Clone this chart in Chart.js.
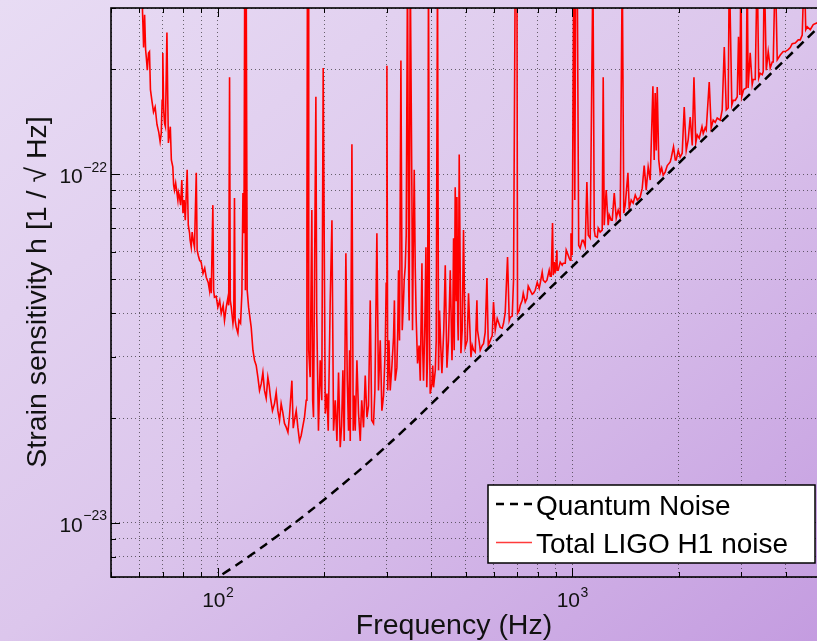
<!DOCTYPE html>
<html>
<head>
<meta charset="utf-8">
<title>LIGO H1 strain sensitivity</title>
<script src="https://cdn.jsdelivr.net/npm/chart.js@4.4.1/dist/chart.umd.min.js"></script>
<style>
  html, body { margin: 0; padding: 0; overflow: hidden; }
  body {
    width: 817px; height: 641px;
    background: linear-gradient(to bottom right, #e8dcf4 0%, #dcc6ec 50%, #c49ce0 100%);
  }
  #wrap { position: relative; width: 830px; height: 641px; }
</style>
</head>
<body>
<div id="wrap"><canvas id="noise" width="830" height="641"></canvas></div>
<script>
// quantum noise (dashed)
const quantumFreq = [95.2, 99.7, 115.7, 136.1, 160.2, 188.4, 221.6, 260.7, 306.6, 360.7,
  444.1, 550.2, 713.5, 987.1, 1366, 1890, 2616, 3619, 5000];
const quantumStrain = [6.76e-24, 6.97e-24, 7.70e-24, 8.65e-24, 9.78e-24, 1.112e-23, 1.273e-23, 1.465e-23, 1.699e-23, 1.981e-23,
  2.436e-23, 3.011e-23, 3.893e-23, 5.365e-23, 7.395e-23, 1.019e-22, 1.405e-22, 1.937e-22, 2.670e-22];

// total H1 noise (red); lines that run off the top are given 4e-22
const noiseFreq = [
  60.8, 61.8, 62.2, 62.6, 62.9, 63.3, 63.8, 64.2, 64.6, 65.2,
  65.9, 66.6, 67.4, 68.2, 68.8, 69.3, 69.7, 70.0, 70.4, 70.8,
  71.2, 71.9, 72.3, 72.6, 73.5, 74.0, 74.7, 75.5, 76.1, 77.2,
  77.9, 79.2, 79.8, 81.0, 82.0, 82.6, 83.3, 84.2, 85.3, 86.0,
  87.0, 87.5, 88.9, 90.9, 92.8, 94.8, 95.9, 96.9, 97.4, 97.9,
  100.1, 102.3, 104.5, 105.7, 106.9, 108.0, 108.5, 109.2, 110.4, 111.5,
  112.0, 112.8, 114.0, 116.0, 117.0, 117.8, 118.6, 119.2, 119.7, 120.3,
  121.1, 122.2, 124.3, 125.7, 127.0, 129.8, 132.7, 135.5, 138.5, 140.9,
  144.6, 147.8, 151.0, 154.3, 157.8, 161.9, 164.6, 168.3, 171.9, 175.7,
  177.7, 178.5, 179.1, 179.8, 180.6, 182.3, 184.3, 185.3, 186.3, 189.2,
  190.2, 192.4, 194.6, 196.6, 198.4, 201.1, 203.3, 205.0, 207.6, 210.0,
  212.2, 216.9, 221.6, 225.5, 227.4, 229.9, 233.9, 236.5, 239.1, 241.1,
  244.3, 249.6, 252.4, 257.8, 263.6, 269.3, 271.9, 275.1, 281.2, 284.1,
  290.5, 296.8, 298.7, 300.1, 301.7, 306.6, 313.3, 316.7, 320.2, 323.6,
  325.7, 328.7, 331.5, 334.3, 338.0, 340.2, 343.1, 345.8, 349.2, 353.1,
  356.1, 358.4, 360.7, 366.2, 372.7, 376.8, 380.7, 386.7, 388.8, 393.2,
  397.6, 402.0, 406.2, 410.9, 416.9, 422.4, 429.0, 438.4, 443.2, 452.9,
  457.9, 462.7, 464.7, 467.7, 470.8, 472.9, 477.0, 480.0, 485.3, 493.6,
  499.1, 509.9, 518.0, 526.8, 538.5, 540.6, 550.2, 562.1, 574.7, 579.7,
  587.1, 599.8, 606.5, 626.5, 640.1, 657.0, 664.3, 668.6, 683.1, 690.7,
  698.3, 701.1, 713.5, 727.6, 745.2, 761.5, 777.9, 796.8, 812.3, 828.5,
  848.5, 866.9, 880.0, 884.0, 895.6, 905.4, 912.9, 937.0, 955.7, 974.3,
  987.2, 992.0, 1000, 1010, 1017, 1023, 1033, 1043, 1053, 1074,
  1100, 1110, 1124, 1144, 1154, 1177, 1199, 1223, 1231, 1247,
  1263, 1288, 1314, 1331, 1366, 1384, 1398, 1436, 1448, 1486,
  1526, 1555, 1596, 1617, 1638, 1660, 1689, 1703, 1714, 1726,
  1737, 1754, 1771, 1806, 1854, 1890, 1931, 1965, 2016, 2070,
  2097, 2152, 2181, 2205, 2231, 2282, 2323, 2342, 2388, 2435,
  2466, 2532, 2616, 2685, 2720, 2774, 2820, 2884, 2945, 2970,
  2992, 3007, 3046, 3116, 3135, 3177, 3219, 3283, 3325, 3358,
  3391, 3436, 3480, 3527, 3572, 3619, 3690, 3739, 3787, 3862,
  3990, 4121, 4257, 4397, 4455, 4513, 4558, 4602, 4693, 4785,
  4911, 5000,
  // extra readings of the noisy floor
  75.1, 77.5, 78.6, 80.4, 83.6, 84.7, 88.1, 89.8, 91.9, 94.0,
  95.2, 99.0, 101.3, 103.6, 107.4, 111.0, 114.8,
  128.4, 131.2, 134.1, 137.0, 139.7, 142.7, 146.2, 149.4, 152.7, 156.1,
  159.4, 163.3, 166.5, 170.1, 173.9,
  214.6, 219.2, 223.6, 232.0, 235.5, 242.7, 247.0, 254.8, 260.7, 266.3,
  277.6, 287.4, 293.6, 304.1, 310.1, 315.1, 322.0, 335.8, 346.9, 354.4,
  363.1, 369.8, 378.7, 383.7, 390.7, 395.6, 404.1, 413.4, 419.7, 425.7,
  434.1, 447.7, 460.1, 475.3, 489.4, 505.6,
  522.3, 532.6, 546.7, 557.3, 568.2, 594.8, 614.4, 634.7, 647.2, 677.3,
  708.8, 722.7, 737.0, 751.5, 771.2, 786.4, 806.9, 822.8, 839.0, 861.1,
  872.4, 889.6, 907.1, 925.0, 943.2, 961.8, 980.7,
  1067, 1088, 1161, 1184, 1215, 1272, 1297, 1348, 1411, 1467,
  1506, 1576, 1788, 1829, 1902, 1953, 1991, 2043, 2124, 2253,
  2372, 2499, 2565, 2649, 2754, 2846, 2921, 3097, 3239, 3458,
  3666, 3937, 4067, 4174, 4341
];
const noiseStrain = [
  4e-22, 2.31e-22, 2.87e-22, 2.28e-22, 2.16e-22, 1.99e-22, 2.23e-22, 2.25e-22, 1.75e-22, 1.63e-22,
  1.51e-22, 1.56e-22, 1.39e-22, 1.32e-22, 1.24e-22, 1.31e-22, 1.63e-22, 2.23e-22, 1.53e-22, 1.40e-22,
  1.37e-22, 2.55e-22, 1.63e-22, 1.23e-22, 1.37e-22, 1.10e-22, 1.05e-22, 9.01e-23, 9.44e-23, 8.44e-23,
  8.72e-23, 9.63e-23, 7.74e-23, 7.39e-23, 1.03e-22, 7.15e-23, 6.78e-23, 6.18e-23, 6.47e-23, 6.18e-23,
  1.01e-22, 6.06e-23, 5.67e-23, 5.20e-23, 5.07e-23, 4.65e-23, 4.56e-23, 8.16e-23, 4.65e-23, 4.44e-23,
  4.16e-23, 3.99e-23, 3.81e-23, 4.16e-23, 4.44e-23, 1.90e-22, 4.35e-23, 4.16e-23, 3.74e-23, 8.55e-23,
  3.81e-23, 3.64e-23, 3.50e-23, 3.74e-23, 4.56e-23, 8.84e-23, 6.78e-23, 4e-22, 4.65e-23, 4e-22,
  4.65e-23, 4.16e-23, 3.64e-23, 3.13e-23, 2.93e-23, 2.62e-23, 2.51e-23, 2.40e-23, 2.62e-23, 2.29e-23,
  2.20e-23, 2.10e-23, 2.20e-23, 1.93e-23, 1.82e-23, 2.56e-23, 1.97e-23, 1.88e-23, 1.78e-23, 2.01e-23,
  2.25e-23, 7.06e-23, 4e-22, 4e-22, 3.13e-23, 2.62e-23, 7.90e-23, 2.25e-23, 2.01e-23, 1.67e-22,
  3.99e-23, 1.84e-23, 2.93e-23, 2.25e-23, 2.02e-22, 2.06e-23, 2.35e-23, 1.84e-23, 4.27e-23, 7.39e-23,
  1.84e-23, 1.72e-23, 1.65e-23, 2.74e-23, 1.72e-23, 5.94e-23, 1.84e-23, 1.72e-23, 1.22e-22, 1.84e-23,
  1.84e-23, 2.06e-23, 1.72e-23, 1.88e-23, 2.01e-23, 4.35e-23, 1.97e-23, 1.93e-23, 6.78e-23, 2.40e-23,
  2.10e-23, 3.13e-23, 4.87e-23, 2.05e-22, 2.40e-23, 2.40e-23, 3.41e-23, 2.56e-23, 2.79e-23, 5.31e-23,
  3.34e-23, 2.12e-22, 3.57e-23, 4.35e-23, 5.42e-23, 6.69e-23, 4e-22, 4.65e-23, 4e-22, 8.44e-23,
  6.06e-23, 1.03e-22, 5.42e-23, 2.87e-23, 2.56e-23, 5.56e-23, 2.56e-23, 6.18e-23, 2.45e-23, 4e-22,
  2.35e-23, 2.51e-23, 2.45e-23, 2.74e-23, 4e-22, 4.07e-23, 2.69e-23, 5.49e-23, 2.79e-23, 5.31e-23,
  2.93e-23, 6.56e-23, 3.13e-23, 9.19e-23, 4.35e-23, 8.61e-23, 3.34e-23, 1.14e-22, 3.07e-23, 6.92e-23,
  3.19e-23, 4.56e-23, 2.99e-23, 3.13e-23, 4.35e-23, 3.57e-23, 3.13e-23, 3.27e-23, 5.04e-23, 3.23e-23,
  3.34e-23, 4.30e-23, 3.57e-23, 3.64e-23, 3.74e-23, 5.79e-23, 3.81e-23, 3.89e-23, 4.97e-23, 4e-22,
  4e-22, 3.99e-23, 4.21e-23, 4.56e-23, 4.41e-23, 4.65e-23, 4.56e-23, 4.90e-23, 4.87e-23, 4.97e-23,
  4.97e-23, 5.10e-23, 7.25e-23, 5.14e-23, 5.20e-23, 6.06e-23, 5.31e-23, 5.49e-23, 5.56e-23, 5.86e-23,
  5.67e-23, 6.78e-23, 5.86e-23, 4e-22, 8.44e-23, 4e-22, 4e-22, 6.26e-23, 6.14e-23, 6.47e-23,
  9.50e-23, 6.69e-23, 6.56e-23, 4e-22, 6.92e-23, 6.60e-23, 6.83e-23, 1.90e-22, 7.15e-23, 9.01e-23,
  7.15e-23, 7.39e-23, 8.84e-23, 7.49e-23, 7.54e-23, 4e-22, 7.74e-23, 1.01e-22, 8.00e-23, 8.27e-23,
  8.44e-23, 8.61e-23, 1.06e-22, 9.01e-23, 1.05e-22, 9.63e-23, 1.79e-22, 1.10e-22, 1.71e-22, 1.17e-22,
  1.78e-22, 1.10e-22, 1.01e-22, 9.95e-23, 1.06e-22, 1.085e-22, 1.20e-22, 1.10e-22, 1.12e-22, 1.56e-22,
  1.17e-22, 1.46e-22, 1.21e-22, 1.90e-22, 1.23e-22, 1.27e-22, 1.37e-22, 1.31e-22, 1.34e-22, 1.84e-22,
  1.36e-22, 1.41e-22, 1.43e-22, 2.32e-22, 1.53e-22, 4e-22, 1.58e-22, 1.63e-22, 2.48e-22, 1.69e-22,
  4e-22, 1.67e-22, 1.75e-22, 4e-22, 1.77e-22, 2.23e-22, 1.81e-22, 1.87e-22, 4e-22, 1.89e-22,
  1.95e-22, 1.93e-22, 4e-22, 1.99e-22, 2.25e-22, 2.02e-22, 2.10e-22, 4e-22, 2.13e-22, 2.20e-22,
  2.25e-22, 2.31e-22, 2.38e-22, 2.43e-22, 2.51e-22, 4e-22, 2.60e-22, 2.65e-22, 2.60e-22, 2.69e-22,
  2.72e-22, 2.78e-22,
  // extra readings of the noisy floor
  9.32e-23, 8.89e-23, 8.16e-23, 8.44e-23, 6.47e-23, 6.83e-23, 5.86e-23, 5.60e-23, 5.38e-23, 4.90e-23,
  5.04e-23, 4.47e-23, 4.35e-23, 4.21e-23, 4.21e-23, 3.94e-23, 3.81e-23,
  2.83e-23, 2.40e-23, 2.70e-23, 2.28e-23, 2.48e-23, 2.10e-23, 2.37e-23, 1.97e-23, 2.07e-23, 1.88e-23,
  2.03e-23, 1.87e-23, 2.10e-23, 1.72e-23, 1.90e-23,
  2.25e-23, 2.70e-23, 1.90e-23, 2.56e-23, 3.13e-23, 2.32e-23, 2.93e-23, 2.25e-23, 2.65e-23, 2.17e-23,
  2.40e-23, 3.34e-23, 2.32e-23, 3.34e-23, 2.83e-23, 4.35e-23, 3.57e-23, 4.97e-23, 3.81e-23, 3.57e-23,
  3.81e-23, 3.23e-23, 3.13e-23, 3.57e-23, 2.93e-23, 3.57e-23, 2.83e-23, 3.34e-23, 2.74e-23, 3.23e-23,
  3.57e-23, 3.34e-23, 3.57e-23, 3.81e-23, 3.57e-23, 3.34e-23,
  3.23e-23, 3.09e-23, 3.30e-23, 3.23e-23, 3.52e-23, 3.45e-23, 3.86e-23, 3.62e-23, 4.02e-23, 3.92e-23,
  4.07e-23, 4.35e-23, 4.30e-23, 4.78e-23, 4.53e-23, 4.65e-23, 4.71e-23, 5.24e-23, 4.90e-23, 5.31e-23,
  5.10e-23, 5.60e-23, 5.31e-23, 5.60e-23, 5.56e-23, 6.06e-23, 5.75e-23,
  6.47e-23, 6.22e-23, 6.65e-23, 7.01e-23, 6.92e-23, 7.64e-23, 7.39e-23, 7.90e-23, 8.16e-23, 8.44e-23,
  8.72e-23, 9.13e-23, 1.043e-22, 1.015e-22, 1.114e-22, 1.10e-22, 1.17e-22, 1.15e-22, 1.255e-22, 1.297e-22,
  1.359e-22, 1.43e-22, 1.451e-22, 1.53e-22, 1.55e-22, 1.63e-22, 1.67e-22, 1.77e-22, 1.87e-22, 1.97e-22,
  2.10e-22, 2.25e-22, 2.28e-22, 2.37e-22, 2.43e-22
];

// grid / tick positions
const freqTicks = [50, 60, 70, 80, 90, 100, 200, 300, 400, 500, 600, 700, 800, 900, 1000, 2000, 3000, 4000, 5000];
const freqMajor = [100, 1000];
const freqExp = ['2', '3'];
const strainTicks = [7e-24, 8e-24, 9e-24, 1e-23, 2e-23, 3e-23, 4e-23, 5e-23, 6e-23, 7e-23, 8e-23, 9e-23, 1e-22, 2e-22, 3e-22];
const strainMajor = [1e-23, 1e-22];
const strainExp = ['\u221223', '\u221222'];

const FONT = '"Liberation Sans", Arial, Helvetica, sans-serif';

const decorations = {
  id: 'decorations',
  afterDraw(chart) {
    const { ctx, chartArea: a, scales: { x, y } } = chart;
    ctx.save();

    // inward tick marks
    ctx.strokeStyle = '#000';
    ctx.lineWidth = 1;
    ctx.beginPath();
    freqTicks.forEach(v => {
      const px = Math.round(x.getPixelForValue(v)) + 0.5;
      const len = freqMajor.includes(v) ? 9 : 5;
      ctx.moveTo(px, a.bottom); ctx.lineTo(px, a.bottom - len);
      ctx.moveTo(px, a.top); ctx.lineTo(px, a.top + len);
    });
    strainTicks.forEach(v => {
      const py = Math.round(y.getPixelForValue(v)) + 0.5;
      const len = strainMajor.some(m => Math.abs(m - v) / m < 1e-6) ? 9 : 5;
      ctx.moveTo(a.left, py); ctx.lineTo(a.left + len, py);
    });
    ctx.stroke();

    // axes box
    ctx.lineWidth = 1.6;
    ctx.strokeRect(a.left, a.top, a.right - a.left, a.bottom - a.top);

    // tick labels: 10 with a superscript exponent
    ctx.fillStyle = '#111';
    ctx.textBaseline = 'alphabetic';
    const big = '21px ' + FONT, small = '14px ' + FONT;
    freqMajor.forEach((v, i) => {
      ctx.font = big; const w1 = ctx.measureText('10').width;
      ctx.font = small; const w2 = ctx.measureText(freqExp[i]).width;
      const x0 = x.getPixelForValue(v) - (w1 + w2) / 2;
      ctx.font = big; ctx.textAlign = 'left'; ctx.fillText('10', x0, a.bottom + 30);
      ctx.font = small; ctx.fillText(freqExp[i], x0 + w1 + 0.5, a.bottom + 20);
    });
    strainMajor.forEach((v, i) => {
      const py = y.getPixelForValue(v);
      ctx.font = small; const w2 = ctx.measureText(strainExp[i]).width;
      ctx.textAlign = 'left';
      const xe = a.left - 4 - w2;
      ctx.fillText(strainExp[i], xe, py - 2.5);
      ctx.font = big; ctx.textAlign = 'right';
      ctx.fillText('10', xe - 0.5, py + 9);
    });

    // axis titles
    ctx.font = '28.5px ' + FONT;
    ctx.textAlign = 'center';
    ctx.fillText('Frequency (Hz)', 454, 634);
    ctx.save();
    ctx.translate(46, 292);
    ctx.rotate(-Math.PI / 2);
    ctx.fillText('Strain sensitivity h [1 / \u221A Hz]', 0, 0);
    ctx.restore();

    // legend box
    const lx = 488, ly = 485, lw = 327, lh = 78;
    ctx.fillStyle = '#fff';
    ctx.fillRect(lx, ly, lw, lh);
    ctx.strokeStyle = '#000';
    ctx.lineWidth = 1.5;
    ctx.strokeRect(lx, ly, lw, lh);

    ctx.lineWidth = 2.5;
    ctx.setLineDash([8, 6]);
    ctx.beginPath(); ctx.moveTo(496, 504); ctx.lineTo(533, 504); ctx.stroke();
    ctx.setLineDash([]);
    ctx.strokeStyle = '#ff3b3b';
    ctx.lineWidth = 1.5;
    ctx.beginPath(); ctx.moveTo(496, 542.5); ctx.lineTo(532, 542.5); ctx.stroke();

    ctx.fillStyle = '#000';
    ctx.font = '28px ' + FONT;
    ctx.textAlign = 'left';
    ctx.fillText('Quantum Noise', 536, 515);
    ctx.fillText('Total LIGO H1 noise', 536, 553);

    ctx.restore();
  }
};

const gridOpts = { color: 'rgba(35,35,35,0.65)', lineWidth: 1, drawTicks: false };

const noisePoints = noiseFreq.map((f, i) => ({ x: f, y: noiseStrain[i] })).sort((p, q) => p.x - q.x);

new Chart(document.getElementById('noise'), {
  type: 'line',
  data: {
    datasets: [
      {
        label: 'Quantum Noise',
        data: quantumFreq.map((f, i) => ({ x: f, y: quantumStrain[i] })),
        borderColor: '#000',
        borderWidth: 2.5,
        borderDash: [9, 6],
        pointRadius: 0,
        tension: 0.3
      },
      {
        label: 'Total LIGO H1 noise',
        data: noisePoints,
        borderColor: '#ff0000',
        borderWidth: 1.6,
        pointRadius: 0,
        tension: 0
      }
    ]
  },
  options: {
    responsive: false,
    animation: false,
    devicePixelRatio: 1,
    layout: { padding: { top: 8, right: 10, left: 0, bottom: 0 } },
    plugins: { legend: { display: false }, tooltip: { enabled: false } },
    scales: {
      x: {
        type: 'logarithmic', min: 50, max: 5000,
        afterBuildTicks: s => { s.ticks = freqTicks.map(v => ({ value: v })); },
        afterFit: s => { s.height = 64; },
        ticks: { display: false },
        grid: gridOpts,
        border: { display: false, dash: [1, 3] }
      },
      y: {
        type: 'logarithmic', min: 7e-24, max: 3e-22,
        afterBuildTicks: s => { s.ticks = strainTicks.map(v => ({ value: v })); },
        afterFit: s => { s.width = 111; },
        ticks: { display: false },
        grid: gridOpts,
        border: { display: false, dash: [1, 3] }
      }
    }
  },
  plugins: [decorations]
});
</script>
</body>
</html>
